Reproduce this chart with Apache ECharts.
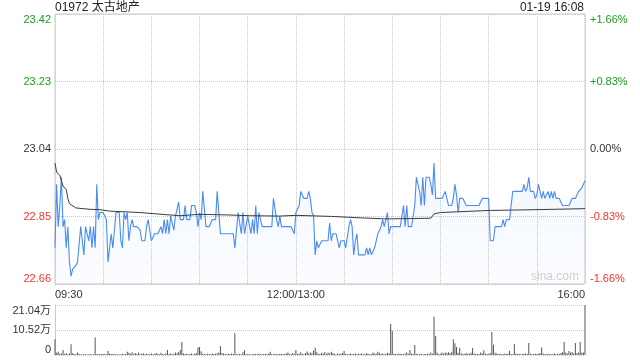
<!DOCTYPE html>
<html><head><meta charset="utf-8">
<script src="https://cdn.jsdelivr.net/npm/echarts@6/dist/echarts.min.js"></script>
<style>html,body{margin:0;padding:0;background:#fff}#c{width:640px;height:360px}</style>
</head><body><div id="c"></div>
<script>
const prevClose = 23.04;
const stockTitle = '01972 太古地产';
const stampText = '01-19 16:08';
const timeLabelMinutes = [0, 150, 330];
const timeLabels = ['09:30', '12:00/13:00', '16:00'];
const pctLimit = 1.66;
const pctStep = 0.83;
const volMax = 21.04;
const volStep = 10.52;

// last price per minute (09:30 .. 16:00, 331 points)
const prices = [
22.76,22.94,22.82,22.88,22.96,22.82,22.84,22.76,22.82,22.72,
22.68,22.70,22.70,22.71,22.72,22.72,22.82,22.82,22.74,22.82,
22.82,22.78,22.82,22.76,22.82,22.76,22.94,22.84,22.86,22.86,
22.86,22.85,22.84,22.72,22.76,22.80,22.76,22.76,22.86,22.86,
22.86,22.78,22.76,22.86,22.84,22.86,22.78,22.82,22.84,22.82,
22.82,22.82,22.82,22.81,22.78,22.78,22.78,22.82,22.84,22.84,
22.78,22.78,22.80,22.80,22.80,22.81,22.82,22.80,22.84,22.80,
22.84,22.80,22.85,22.85,22.81,22.85,22.85,22.89,22.84,22.84,
22.84,22.88,22.84,22.84,22.84,22.88,22.88,22.88,22.86,22.82,
22.86,22.84,22.92,22.92,22.82,22.82,22.82,22.82,22.84,22.84,
22.84,22.92,22.92,22.80,22.80,22.80,22.80,22.80,22.80,22.80,
22.80,22.80,22.76,22.76,22.86,22.86,22.80,22.86,22.80,22.80,
22.85,22.85,22.80,22.84,22.80,22.88,22.80,22.86,22.86,22.82,
22.82,22.82,22.82,22.82,22.82,22.82,22.90,22.90,22.84,22.82,
22.85,22.82,22.82,22.82,22.82,22.82,22.82,22.82,22.82,22.80,
22.86,22.86,22.88,22.92,22.92,22.90,22.90,22.90,22.92,22.90,
22.86,22.85,22.74,22.78,22.76,22.76,22.78,22.78,22.78,22.78,
22.78,22.83,22.78,22.80,22.80,22.80,22.80,22.76,22.78,22.78,
22.78,22.76,22.76,22.82,22.84,22.82,22.74,22.78,22.80,22.74,
22.74,22.74,22.74,22.74,22.76,22.74,22.76,22.74,22.74,22.76,
22.78,22.80,22.80,22.82,22.84,22.82,22.84,22.86,22.80,22.82,
22.82,22.82,22.82,22.82,22.82,22.82,22.82,22.88,22.82,22.88,
22.82,22.82,22.82,22.82,22.88,22.96,22.96,22.92,22.88,22.96,
22.88,22.96,22.96,22.96,22.94,22.91,23.00,22.90,22.90,22.90,
22.90,22.90,22.90,22.92,22.92,22.88,22.88,22.88,22.90,22.94,
22.91,22.86,22.90,22.90,22.90,22.90,22.88,22.88,22.88,22.88,
22.88,22.88,22.88,22.88,22.88,22.88,22.90,22.90,22.90,22.90,
22.90,22.78,22.78,22.78,22.82,22.82,22.82,22.82,22.82,22.84,
22.82,22.84,22.84,22.84,22.84,22.92,22.92,22.92,22.92,22.92,
22.92,22.92,22.94,22.92,22.93,22.96,22.92,22.92,22.92,22.90,
22.91,22.94,22.92,22.90,22.92,22.90,22.90,22.92,22.90,22.92,
22.90,22.92,22.90,22.90,22.90,22.90,22.88,22.88,22.88,22.88,
22.88,22.88,22.90,22.90,22.90,22.90,22.92,22.92,22.93,22.94,
22.95
];

// average price line, read at key minutes
const avgMinutes = [0,1,3,5,7,8,9,13,22,28,34,53,69,78,90,109,121,140,150,172,190,206,223,234,236,240,250,271,298,330];
const avgPrices = [23.00,22.975,22.965,22.935,22.925,22.90,22.885,22.873,22.869,22.868,22.864,22.860,22.854,22.851,22.855,22.853,22.851,22.850,22.852,22.849,22.845,22.842,22.843,22.844,22.856,22.860,22.862,22.866,22.868,22.871];

// volume per minute, in 万 shares
const volumes = [
6.6,0.9,1.4,0.5,0.6,2.1,0.4,0.8,0.3,0.6,
4.5,0.7,0.4,0.3,1.0,0.5,0.3,0.2,0.4,0.3,
0.2,0.3,0.4,0.2,0.3,7.4,0.4,0.3,0.5,0.4,
0.4,0.5,0.3,1.7,0.6,0.4,0.5,0.3,0.4,0.3,
0.2,0.3,0.5,0.3,0.4,1.4,0.9,0.5,1.2,0.4,
0.8,0.4,1.0,0.3,0.5,0.7,0.3,0.5,0.4,0.3,
0.6,0.3,0.4,0.8,0.5,0.3,0.9,0.4,0.3,0.6,
2.1,0.4,0.6,0.3,0.5,1.0,0.7,1.3,2.1,5.5,
0.6,0.4,0.5,0.3,0.4,0.6,0.3,0.5,0.8,3.2,
3.4,1.6,0.5,0.4,0.3,0.5,0.4,0.3,0.6,0.4,
0.5,0.7,1.0,3.8,0.8,0.6,0.4,0.3,0.5,0.4,
0.6,0.4,9.1,0.3,0.4,0.5,0.3,1.2,2.0,0.4,
0.3,0.4,0.2,0.3,0.5,0.4,0.3,0.6,0.4,0.3,
0.4,0.5,0.3,0.6,1.4,0.4,0.3,0.5,0.4,0.3,
0.5,0.4,0.3,0.4,0.6,1.1,0.4,0.3,0.8,0.5,
2.1,0.4,0.6,1.2,0.5,0.3,0.8,1.5,0.6,1.1,
0.7,1.9,3.1,1.2,0.5,0.4,0.9,0.6,1.3,0.5,
1.0,0.6,1.4,0.8,0.5,0.3,0.6,0.4,0.5,0.8,
1.7,0.5,0.3,0.4,0.6,0.3,0.4,0.7,0.3,0.5,
0.4,0.6,0.3,0.4,0.8,0.5,0.3,0.4,1.0,0.6,
0.5,1.4,0.9,0.4,0.6,0.3,0.5,0.9,0.6,13.0,
10.2,0.5,0.4,0.3,0.6,0.4,0.5,0.3,0.6,1.1,
0.5,2.1,0.6,0.4,4.2,0.5,0.3,0.4,0.5,0.3,
0.4,0.3,0.6,0.4,1.1,0.5,16.1,8.0,0.9,0.4,
0.5,1.0,0.6,1.1,0.8,1.2,0.7,1.4,6.6,4.9,
3.4,0.9,3.0,0.6,0.5,0.4,0.8,0.4,0.6,0.9,
2.9,0.6,0.4,0.5,0.3,1.0,0.7,2.0,0.6,0.4,
0.5,0.8,9.7,4.3,0.9,0.6,0.4,0.5,0.3,0.4,
0.6,0.4,0.5,1.7,0.4,0.3,4.6,0.6,0.4,0.5,
0.3,0.4,0.5,0.6,0.4,5.0,0.5,0.3,0.4,0.6,
0.4,0.5,0.8,3.2,0.6,0.4,0.3,0.5,0.4,0.3,
0.4,0.6,0.3,0.5,0.4,0.8,1.2,5.5,1.0,0.6,
1.7,0.9,1.3,0.6,5.0,0.8,1.1,5.5,0.9,1.0,
21.04
];

const FONT = 'Arial, "Liberation Sans", "Noto Sans CJK SC", sans-serif';
const GREEN = '#1a9f1a', RED = '#f23333', DARK = '#333';
const toPct = p => (p / prevClose - 1) * 100;
const signColor = v => v > 0.001 ? GREEN : (v < -0.001 ? RED : DARK);

const priceData = prices.map((p, i) => [i, toPct(p)]);
const avgData = avgMinutes.map((m, i) => [m, toPct(avgPrices[i])]);
const volData = volumes.map((v, i) => [i, v]);
const lastMinute = prices.length - 1;

const chart = echarts.init(document.getElementById('c'), null, {renderer: 'canvas'});
chart.setOption({
  animation: false,
  textStyle: {fontFamily: FONT},
  title: [
    {text: stockTitle, left: 55, top: 2, padding: 0, textStyle: {fontSize: 12, fontWeight: 'normal', color: '#222', fontFamily: FONT}},
    {text: stampText, right: 56, top: 2, padding: 0, textStyle: {fontSize: 12, fontWeight: 'normal', color: '#222', fontFamily: FONT}}
  ],
  grid: [
    {left: 55, right: 55, top: 14, height: 270, show: true, borderColor: '#c8c8c8', borderWidth: 1, backgroundColor: 'transparent'},
    {left: 55, right: 55, top: 305, height: 50}
  ],
  xAxis: [
    {
      type: 'value', gridIndex: 0, min: 0, max: lastMinute, interval: 30,
      axisLine: {show: false}, axisTick: {show: false},
      splitLine: {show: true, lineStyle: {type: 'dotted', color: '#c8c8c8'}},
      axisLabel: {
        show: true, fontSize: 11, color: DARK, margin: 5, fontFamily: FONT,
        alignMinLabel: 'left', alignMaxLabel: 'right',
        formatter: v => { const k = timeLabelMinutes.indexOf(Math.round(v)); return k >= 0 ? timeLabels[k] : ''; }
      }
    },
    {
      type: 'value', gridIndex: 1, min: 0, max: lastMinute, interval: 30,
      axisLine: {show: false}, axisTick: {show: false}, axisLabel: {show: false}, splitLine: {show: false}
    }
  ],
  yAxis: [
    {
      type: 'value', gridIndex: 0, position: 'left', min: -pctLimit, max: pctLimit, interval: pctStep,
      axisLine: {show: false}, axisTick: {show: false},
      splitLine: {show: true, lineStyle: {type: 'dotted', color: '#c8c8c8'}},
      axisLabel: {
        fontSize: 11, margin: 4, fontFamily: FONT,
        verticalAlignMinLabel: 'bottom', verticalAlignMaxLabel: 'top',
        color: v => signColor(v),
        formatter: v => (prevClose * (1 + v / 100)).toFixed(2)
      }
    },
    {
      type: 'value', gridIndex: 0, position: 'right', min: -pctLimit, max: pctLimit, interval: pctStep,
      axisLine: {show: false}, axisTick: {show: false}, splitLine: {show: false},
      axisLabel: {
        fontSize: 11, margin: 5, fontFamily: FONT,
        verticalAlignMinLabel: 'bottom', verticalAlignMaxLabel: 'top',
        color: v => signColor(v),
        formatter: v => (v > 0.001 ? '+' : '') + (Math.abs(v) < 0.001 ? 0 : v).toFixed(2) + '%'
      }
    },
    {
      type: 'value', gridIndex: 1, min: 0, max: volMax, interval: volStep,
      axisLine: {show: true, lineStyle: {color: '#c8c8c8'}}, axisTick: {show: false},
      splitLine: {show: true, lineStyle: {type: 'dotted', color: '#c8c8c8'}},
      axisLabel: {
        fontSize: 11, margin: 4, color: DARK, fontFamily: FONT,
        verticalAlignMinLabel: 'bottom', verticalAlignMaxLabel: 'top',
        formatter: v => v < 0.001 ? '0' : v.toFixed(2) + '万'
      }
    }
  ],
  series: [
    {
      type: 'line', xAxisIndex: 0, yAxisIndex: 0, data: priceData, showSymbol: false,
      lineStyle: {width: 1.1, color: '#4a8cf2'},
      areaStyle: {origin: 'start', color: new echarts.graphic.LinearGradient(0, 0, 0, 1, [
        {offset: 0, color: 'rgba(75,141,245,0.10)'}, {offset: 1, color: 'rgba(75,141,245,0.03)'}
      ])},
      z: 3
    },
    {
      type: 'line', xAxisIndex: 0, yAxisIndex: 0, data: avgData, showSymbol: false,
      lineStyle: {width: 1, color: '#3a3a3a'}, z: 4
    },
    {
      type: 'bar', xAxisIndex: 1, yAxisIndex: 2, data: volData, barWidth: 1,
      itemStyle: {color: '#555'}
    }
  ],
  graphic: [
    {type: 'text', left: 531, top: 271, style: {text: 'sina.com', fill: '#d0d0d0', fontSize: 12, fontFamily: FONT}, z: 1}
  ]
});
</script>
</body></html>
